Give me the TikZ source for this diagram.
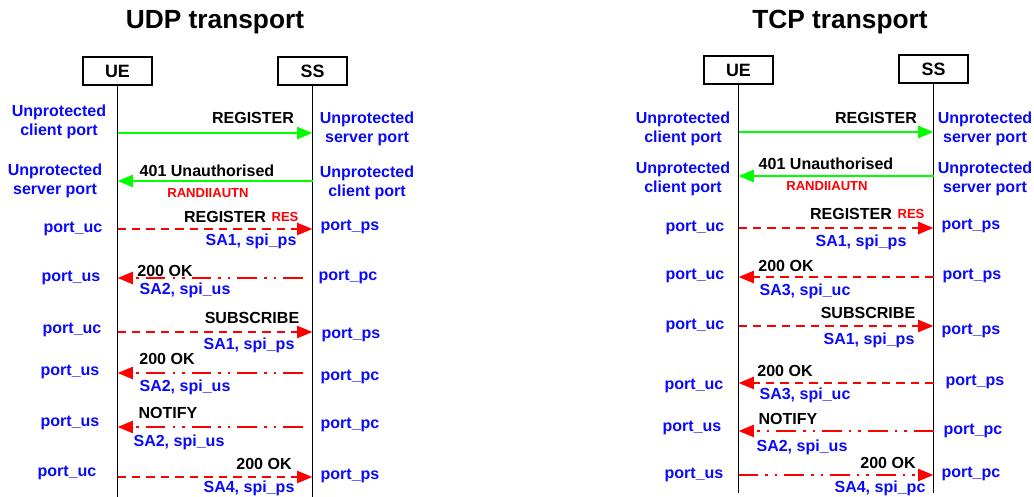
\documentclass[tikz,border=0pt]{standalone}
\usepackage{fontspec}
\setmainfont{Liberation Sans}
\usepackage{xcolor}
\usepackage{tikz}
\usetikzlibrary{arrows.meta}

\definecolor{portblue}{RGB}{10,10,250}
\definecolor{sigred}{RGB}{255,0,0}
\definecolor{siggreen}{RGB}{0,255,0}

\tikzset{
  ent/.style={rectangle, draw, line width=0.8pt,
              minimum width=1.725cm, minimum height=0.7cm,
              font=\fontsize{12.7}{14}\selectfont\bfseries},
  ttl/.style={font=\fontsize{18.7}{21}\selectfont\bfseries},
  msg/.style={inner sep=0pt, font=\fontsize{11.4}{13.2}\selectfont\bfseries},
  port/.style={msg, text=portblue, align=center},
  sa/.style={msg, text=portblue},
  sec/.style={inner sep=0pt, text=sigred, font=\fontsize{9.3}{11}\selectfont\bfseries},
  life/.style={line width=1pt},
  tip/.style={-{Triangle[length=11pt,width=8.5pt]}, line width=1.9pt},
  unprot/.style={tip, draw=siggreen},
  dsh/.style={tip, draw=sigred, dash pattern=on 6pt off 4.3pt},
  ddot/.style={tip, draw=sigred, dash pattern=on 14pt off 5pt on 1.8pt off 5pt on 1.8pt off 5pt}
}

\begin{document}
\begin{tikzpicture}[x=0.025cm, y=-0.025cm]

    \useasboundingbox (0,0) rectangle (1034,497);

    %UDP side
    \node[ttl] (udpT) at (215,22) {UDP transport};

    \node[ent] (ueA) at (117.5,71) {UE};
    \node[ent] (ssA) at (312.5,71) {SS};

    \coordinate (botA) at (0,497);
    \draw[life] (ueA.south) -- (ueA.south |- botA);
    \draw[life] (ssA.south) -- (ssA.south |- botA);

    \coordinate (yA1) at (0,133);
    \coordinate (yA2) at (0,181);
    \coordinate (yA3) at (0,229);
    \coordinate (sA4) at (303,278);
    \coordinate (yA5) at (0,332);
    \coordinate (sA6) at (303,373);
    \coordinate (sA7) at (303,427);
    \coordinate (yA8) at (0,477);

    \draw[unprot] (ueA |- yA1) -- (ssA |- yA1);
    \draw[unprot] (ssA |- yA2) -- (ueA |- yA2);
    \draw[dsh] (ueA |- yA3) -- (ssA |- yA3);
    \draw[ddot] (sA4) -- (ueA |- sA4);
    \draw[dsh] (ueA |- yA5) -- (ssA |- yA5);
    \draw[ddot] (sA6) -- (ueA |- sA6);
    \draw[ddot] (sA7) -- (ueA |- sA7);
    \draw[dsh] (ueA |- yA8) -- (ssA |- yA8);

    \node[msg] (mA1) at (253,118) {REGISTER};
    \node[msg] (mA2) at (207,171) {401 Unauthorised};
    \node[sec] (kA2) at (208,193) {RANDIIAUTN};
    \node[msg] (mA3) at (225,217) {REGISTER};
    \node[sec] (kA3) at (285,217) {RES};
    \node[sa] (aA3) at (251,241) {SA1, spi\_ps};
    \node[msg] (mA4) at (165,271) {200 OK};
    \node[sa] (aA4) at (185,290) {SA2, spi\_us};
    \node[msg] (mA5) at (252,318) {SUBSCRIBE};
    \node[sa] (aA5) at (249,345) {SA1, spi\_ps};
    \node[msg] (mA6) at (167,359) {200 OK};
    \node[sa] (aA6) at (185,387) {SA2, spi\_us};
    \node[msg] (mA7) at (168,413) {NOTIFY};
    \node[sa] (aA7) at (179,442) {SA2, spi\_us};
    \node[msg] (mA8) at (264,464) {200 OK};
    \node[sa] (aA8) at (249,488) {SA4, spi\_ps};

    \node[port] (lA1) at (59,122) {Unprotected\\client port};
    \node[port] (rA1) at (367,129) {Unprotected\\server port};
    \node[port] (lA2) at (55,181) {Unprotected\\server port};
    \node[port] (rA2) at (367,183) {Unprotected\\client port};
    \node[port] (lA3) at (73,229) {port\_uc};
    \node[port] (rA3) at (350,227) {port\_ps};
    \node[port] (lA4) at (71,278) {port\_us};
    \node[port] (rA4) at (348,277) {port\_pc};
    \node[port] (lA5) at (72,330) {port\_uc};
    \node[port] (rA5) at (351,335) {port\_ps};
    \node[port] (lA6) at (70,372) {port\_us};
    \node[port] (rA6) at (350,377) {port\_pc};
    \node[port] (lA7) at (70,423) {port\_us};
    \node[port] (rA7) at (350,425) {port\_pc};
    \node[port] (lA8) at (67,473) {port\_uc};
    \node[port] (rA8) at (350,476) {port\_ps};

    %TCP side
    \node[ttl] (tcpT) at (840,22) {TCP transport};

    \node[ent] (ueB) at (738.5,70) {UE};
    \node[ent] (ssB) at (933.5,69) {SS};

    \coordinate (botB) at (0,493);
    \draw[life] (ueB.south) -- (ueB.south |- botB);
    \draw[life] (ssB.south) -- (ssB.south |- botB);

    \coordinate (yB1) at (0,132);
    \coordinate (yB2) at (0,176);
    \coordinate (yB3) at (0,228);
    \coordinate (yB4) at (0,277);
    \coordinate (yB5) at (0,326);
    \coordinate (yB6) at (0,383);
    \coordinate (yB7) at (0,431);
    \coordinate (yB8) at (0,475);

    \draw[unprot] (ueB |- yB1) -- (ssB |- yB1);
    \draw[unprot] (ssB |- yB2) -- (ueB |- yB2);
    \draw[dsh] (ueB |- yB3) -- (ssB |- yB3);
    \draw[dsh] (ssB |- yB4) -- (ueB |- yB4);
    \draw[dsh] (ueB |- yB5) -- (ssB |- yB5);
    \draw[dsh] (ssB |- yB6) -- (ueB |- yB6);
    \draw[ddot] (ssB |- yB7) -- (ueB |- yB7);
    \draw[ddot] (ueB |- yB8) -- (ssB |- yB8);

    \node[msg] (mB1) at (876,118) {REGISTER};
    \node[msg] (mB2) at (826,164) {401 Unauthorised};
    \node[sec] (kB2) at (827,186) {RANDIIAUTN};
    \node[msg] (mB3) at (851,214) {REGISTER};
    \node[sec] (kB3) at (911,214) {RES};
    \node[sa] (aB3) at (861,242) {SA1, spi\_ps};
    \node[msg] (mB4) at (786,266) {200 OK};
    \node[sa] (aB4) at (805,291) {SA3, spi\_uc};
    \node[msg] (mB5) at (868,313) {SUBSCRIBE};
    \node[sa] (aB5) at (869,340) {SA1, spi\_ps};
    \node[msg] (mB6) at (785,371) {200 OK};
    \node[sa] (aB6) at (805,395) {SA3, spi\_uc};
    \node[msg] (mB7) at (788,419) {NOTIFY};
    \node[sa] (aB7) at (802,447) {SA2, spi\_us};
    \node[msg] (mB8) at (888,463) {200 OK};
    \node[sa] (aB8) at (880,488) {SA4, spi\_pc};

    \node[port] (lB1) at (683,129) {Unprotected\\client port};
    \node[port] (rB1) at (985,129) {Unprotected\\server port};
    \node[port] (lB2) at (683,179) {Unprotected\\client port};
    \node[port] (rB2) at (985,179) {Unprotected\\server port};
    \node[port] (lB3) at (695,228) {port\_uc};
    \node[port] (rB3) at (971,226) {port\_ps};
    \node[port] (lB4) at (695,276) {port\_uc};
    \node[port] (rB4) at (972,276) {port\_ps};
    \node[port] (lB5) at (695,326) {port\_uc};
    \node[port] (rB5) at (971,331) {port\_ps};
    \node[port] (lB6) at (694,386) {port\_uc};
    \node[port] (rB6) at (975,382) {port\_ps};
    \node[port] (lB7) at (692,428) {port\_us};
    \node[port] (rB7) at (973,431) {port\_pc};
    \node[port] (lB8) at (694,475) {port\_us};
    \node[port] (rB8) at (971,474) {port\_pc};

\end{tikzpicture}
\end{document}
